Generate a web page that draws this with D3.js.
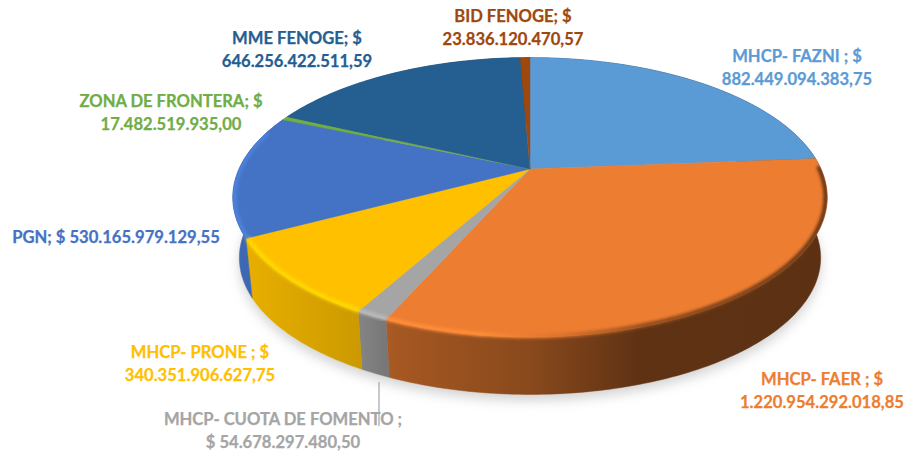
<!DOCTYPE html>
<html><head><meta charset="utf-8">
<script src="https://cdn.jsdelivr.net/npm/d3@7"></script>
<style>html,body{margin:0;padding:0;background:#fff}svg{display:block}</style>
</head><body><svg id="c" width="907" height="453"></svg>
<script>
const categories = ["MHCP- FAZNI","MHCP- FAER","MHCP- CUOTA DE FOMENTO","MHCP- PRONE","PGN","ZONA DE FRONTERA","MME FENOGE","BID FENOGE"];
const values = [882449094383.75,1220954292018.85,54678297480.50,340351906627.75,530165979129.55,17482519935.00,646256422511.59,23836120470.57];
const colors = ["#5b9bd5","#ed7d31","#a5a5a5","#ffc000","#4472c4","#70ad47","#255e91","#9e480e"];
const labelFirst = ["MHCP- FAZNI ; $","MHCP- FAER ; $","MHCP- CUOTA DE FOMENTO ;","MHCP- PRONE ; $","PGN; $ 530.165.979.129,55","ZONA DE FRONTERA; $","MME FENOGE; $","BID FENOGE; $"];
const labelSecond = ["882.449.094.383,75","1.220.954.292.018,85","$ 54.678.297.480,50","340.351.906.627,75","","17.482.519.935,00","646.256.422.511,59","23.836.120.470,57"];
const labelX = [797,822,283,200,116,171,297,513];
const labelY = [62,385,425,358,243,107,44,22];

const svg = d3.select("#c");
const defs = svg.append("defs");
// perspective disc: unit circle -> page
const k = 0.203, apexX = 530, apexY = 169;
const sx = d3.scaleLinear().domain([-1,1]).range([apexX-291,apexX+291]);
const sy = d3.scaleLinear().domain([-1,1]).range([apexY-134,apexY+134]);
const wallDrop = 61, wallShrink = 0.978;
function proj(angle, r=1, drop=0, shrink=1){
  const x = r*Math.sin(angle), y = -r*Math.cos(angle), w = 1-k*y;
  return [apexX+(sx(x/w)-apexX)*shrink, apexY+(sy(y/w)-apexY)*shrink+drop];
}
const arcs = d3.pie().sort(null).value(d=>d)(values);
const step = Math.PI/180;
const arcPts = (a0,a1,r=1,drop=0,shrink=1)=>{
  const n = Math.max(2,Math.ceil((a1-a0)/step));
  return d3.range(n+1).map(i=>proj(a0+(a1-a0)*i/n,r,drop,shrink));
};
const line = d3.line();
const TAU = 2*Math.PI;

const blur = (id,s)=>defs.append("filter").attr("id",id)
  .attr("x","-20%").attr("y","-20%").attr("width","140%").attr("height","140%")
  .append("feGaussianBlur").attr("stdDeviation",s);
blur("shadow",6); blur("soft",1.5);

const clip = defs.append("clipPath").attr("id","discClip");
clip.append("path").attr("d",line(arcPts(0,TAU))+"Z");
clip.append("path").attr("d",line(arcPts(0,TAU,1,wallDrop,wallShrink))+"Z");
clip.append("path").attr("d",line(arcPts(Math.PI/3,Math.PI*5/3).concat(arcPts(Math.PI/3,Math.PI*5/3,1,wallDrop,wallShrink).reverse()))+"Z");

const scaleCh = (c,f)=>{const r=d3.rgb(c);return d3.rgb(Math.min(255,r.r*f),Math.min(255,r.g*f),Math.min(255,r.b*f)).formatHex();};
const wallStops = [[235,.92],[360,.80],[395,.70],[530,.58],[640,.40],[830,.39]];
const rimStops  = [[235,1.13],[480,1.12],[560,.92],[650,.6],[830,.42]];
function grad(id,c,stops){
  const g = defs.append("linearGradient").attr("id",id).attr("gradientUnits","userSpaceOnUse")
    .attr("x1",stops[0][0]).attr("x2",stops[stops.length-1][0]).attr("y1",0).attr("y2",0);
  const x0=stops[0][0],x1=stops[stops.length-1][0];
  stops.forEach(s=>g.append("stop").attr("offset",(s[0]-x0)/(x1-x0)).attr("stop-color",scaleCh(c,s[1])));
}
colors.forEach((c,i)=>{grad("w"+i,c,wallStops);grad("r"+i,c,rimStops);});

// soft shadow under the disc
svg.append("path")
  .attr("d",line(arcPts(0,TAU,1,wallDrop+6,wallShrink))+"Z")
  .attr("fill","#a8a8a8").attr("opacity",.5).attr("filter","url(#shadow)");

// outer walls
svg.append("g").selectAll("path").data(arcs).join("path")
  .attr("d",(d)=>line(arcPts(d.startAngle,d.endAngle).concat(arcPts(d.startAngle,d.endAngle,1,wallDrop,wallShrink).reverse()))+"Z")
  .attr("fill",(d,i)=>`url(#w${i})`)
  .attr("stroke",(d,i)=>`url(#w${i})`).attr("stroke-width",.5);

// top faces
svg.append("g").selectAll("path").data(arcs).join("path")
  .attr("d",d=>line([[apexX,apexY]].concat(arcPts(d.startAngle,d.endAngle)))+"Z")
  .attr("fill",(d,i)=>colors[i])
  .attr("stroke",(d,i)=>colors[i]).attr("stroke-width",.4);

// bevel along the visible rim
const frontFrom = 1.55, frontTo = 5.0;
svg.append("g").attr("clip-path","url(#discClip)").selectAll("path").data(arcs).join("path")
  .attr("d",d=>{
    const a0=Math.max(d.startAngle,frontFrom), a1=Math.min(d.endAngle,frontTo);
    return a1>a0 ? line(arcPts(a0,a1,0.995)) : null;
  })
  .attr("fill","none").attr("stroke",(d,i)=>`url(#r${i})`).attr("stroke-width",4.5)
  .attr("filter","url(#soft)");

// leader line
svg.append("line").attr("x1",379).attr("x2",379).attr("y1",382).attr("y2",426)
  .attr("stroke","#a5a5a5").attr("stroke-width",1.2);

// labels
const lab = svg.append("g").attr("font-family","Lato, 'Open Sans', sans-serif").attr("font-weight",700)
  .attr("font-size",16.6).attr("text-anchor","middle").attr("stroke-width",.25);
categories.forEach((c,i)=>{
  const col = colors[i];
  lab.append("text").attr("x",labelX[i]).attr("y",labelY[i]).attr("fill",col).attr("stroke",col).text(labelFirst[i]);
  if(labelSecond[i]) lab.append("text").attr("x",labelX[i]).attr("y",labelY[i]+22.5).attr("fill",col).attr("stroke",col).text(labelSecond[i]);
});
</script></body></html>
